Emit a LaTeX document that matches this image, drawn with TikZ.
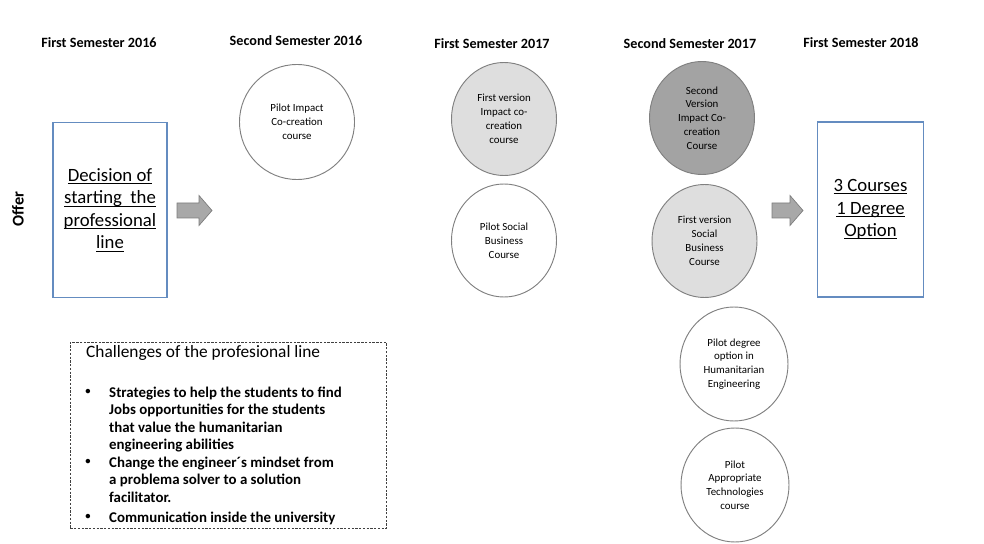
\documentclass[tikz,border=0pt]{standalone}
\usepackage{fontspec}
\setmainfont{Carlito}
\usetikzlibrary{shapes.geometric,positioning}
\definecolor{boxB}{RGB}{100,140,192}
\definecolor{ringG}{RGB}{128,128,128}
\definecolor{fillL}{RGB}{222,222,222}
\definecolor{fillD}{RGB}{163,163,163}
\definecolor{arrF}{RGB}{168,168,168}
\definecolor{arrL}{RGB}{125,125,125}
\newcommand\ulx[1]{\setbox0\hbox{#1}\rlap{\rule[-2.4pt]{\wd0}{0.85pt}}\box0}

\begin{document}
\begin{tikzpicture}[x=0.03cm,y=-0.03cm,
  sem/.style={font=\fontsize{12.1}{14}\selectfont\bfseries},
  crs/.style={ellipse,draw=ringG,line width=0.8pt,inner sep=0pt,align=center,
    font=\fontsize{9.3}{11.8}\selectfont,minimum width=3.15cm,minimum height=3.39cm},
  goal/.style={draw=boxB,line width=1pt,inner sep=0pt,align=center,
    minimum height=5.25cm,font=\fontsize{16}{19.3}\selectfont},
  push/.style={draw=arrL,fill=arrF,line width=0.6pt},
  chal/.style={anchor=north west,align=left,inner sep=0pt,font=\fontsize{12.7}{14.9}\selectfont\bfseries}]
\useasboundingbox (0,0) rectangle (984,544);
\node[sem] (s1) at (99,43) {First Semester 2016};
\node[sem] (s2) at (296,41) {Second Semester 2016};
\node[sem] (s3) at (492,44) {First Semester 2017};
\node[sem] (s4) at (690,44) {Second Semester 2017};
\node[sem] (s5) at (861,43) {First Semester 2018};
\node[font=\fontsize{14}{16}\selectfont\bfseries,rotate=90] (offer) at (18,209) {Offer};

\node[goal,minimum width=3.42cm] (start) at (110,210)
  {\ulx{Decision of}\\\ulx{starting\ \ the}\\\ulx{professional}\\\ulx{line}};
\node[goal,minimum width=3.18cm] (goal) at (870.5,209.5)
  {\ulx{3 Courses}\\\ulx{1 Degree}\\\ulx{Option}};

\node[crs,minimum width=3.45cm,minimum height=3.45cm] (c1) at (297,122) {Pilot Impact\\Co-creation\\course};
\node[crs,fill=fillL] (c2) at (504,119) {First version\\Impact co-\\creation\\course};
\node[crs] (c3) at (504,240.5) {Pilot Social\\Business\\Course};
\node[crs,fill=fillD] (c4) at (702,118) {Second\\Version\\Impact Co-\\creation\\Course};
\node[crs,fill=fillL] (c5) at (704.5,241) {First version\\Social\\Business\\Course};
\node[crs,minimum width=3.24cm,minimum height=3.42cm] (c6) at (734,364) {Pilot degree\\option in\\Humanitarian\\Engineering};
\node[crs,minimum width=3.24cm,minimum height=3.42cm] (c7) at (735,485) {Pilot\\Appropriate\\Technologies\\course};

\draw[push] (177,203) -- (199,203) -- (199,195.5) -- (212,210.5) -- (199,225.5) -- (199,218) -- (177,218) -- cycle;
\draw[push] (772,203) -- (790,203) -- (790,195.5) -- (803,210.5) -- (790,225.5) -- (790,218) -- (772,218) -- cycle;

\node[draw=black!75,line width=0.6pt,dash pattern=on 2pt off 1.2pt,anchor=north west,
  minimum width=9.48cm,minimum height=5.58cm] (chbox) at (70,342) {};
\node[anchor=north west,inner sep=0pt,font=\fontsize{14.8}{17}\selectfont] (chtitle) at (86,345.5) {Challenges of the profesional line};
\node[chal] (t1) at (109,386.5) {Strategies to help the students to find\\Jobs opportunities for the students\\that value the humanitarian\\engineering abilities};
\node[chal] (t2) at (109,456.5) {Change the engineer´s mindset from\\a problema solver to a solution\\facilitator.};
\node[chal] (t3) at (109,511.5) {Communication inside the university};
\foreach \y/\n in {392/1,462/2,517/3}
  \node[inner sep=0pt,font=\fontsize{9}{9}\selectfont\bfseries] (d\n) at (88,\y) {\textbullet};
\end{tikzpicture}
\end{document}
